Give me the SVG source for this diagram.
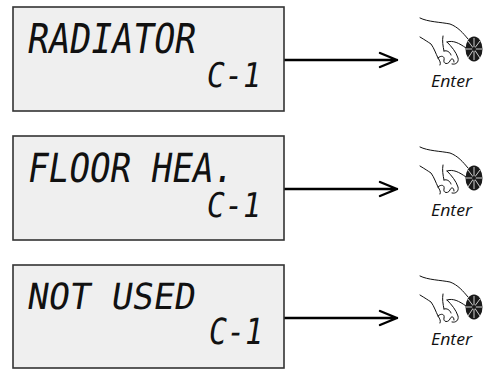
<svg xmlns="http://www.w3.org/2000/svg" xmlns:xlink="http://www.w3.org/1999/xlink" width="485" height="370" viewBox="0 0 485 370">
<style>
.box{fill:#efefef;stroke:#333;stroke-width:1.6}
.lcd{font-family:"DejaVu Sans Mono","Liberation Mono",monospace;fill:#111}
.con{stroke:#000;stroke-width:2.4;fill:none;stroke-linecap:round;stroke-linejoin:round}
.hand{stroke:#111;stroke-width:1;fill:none;stroke-linecap:round;stroke-linejoin:round}
.enter{font-family:"Open Sans","Noto Sans",sans-serif;font-style:italic;font-size:16.5px;fill:#111}
</style>
<defs>
<g id="handicon">
<path class="hand" d="M420,18 C428,22 440,22 450,24 C458,27 463,33 468,39"/>
<path class="hand" d="M447,42 C453,40 459,43 466,48"/>
<path class="hand" d="M420,37 C425,40 428,42 431,44 C434,48 436,54 438,58 C440,61 441,63 440,65"/>
<path class="hand" d="M443,36 C442,41 443,46 444,51"/>
<path class="hand" d="M447,42 C452,47 456,52 458,58 C459,62 456,65 452,64"/>
<path class="hand" d="M438,58 C441,55 445,56 444,60 C443,64 448,65 450,61 C451,58 454,58 454,62"/>
<path class="hand" d="M444,51 C447,50 450,52 451,55"/>
<ellipse cx="474" cy="49" rx="8.5" ry="12.5" fill="#1a1a1a"/>
<g stroke="#fff" stroke-width="0.8">
<line x1="474" y1="49" x2="474" y2="38"/>
<line x1="474" y1="49" x2="480" y2="41"/>
<line x1="474" y1="49" x2="482" y2="49"/>
<line x1="474" y1="49" x2="480" y2="58"/>
<line x1="474" y1="49" x2="474" y2="60"/>
<line x1="474" y1="49" x2="468" y2="58"/>
<line x1="474" y1="49" x2="466" y2="49"/>
<line x1="474" y1="49" x2="468" y2="41"/>
</g>
<circle cx="474" cy="49" r="2" fill="#1a1a1a"/>
<text class="enter" x="431" y="87" textLength="41" lengthAdjust="spacingAndGlyphs">Enter</text>
</g>
</defs>

<g id="connectors">
<path class="con" d="M284,60 H397 M380,53 L397,60 L380,67"/>
<path class="con" d="M284,189 H397 M380,182 L397,189 L380,196"/>
<path class="con" d="M284,318 H397 M380,311 L397,318 L380,325"/>
</g>

<g id="node-radiator">
<rect class="box" x="13" y="7" width="271" height="104"/>
<text class="lcd" font-size="41" textLength="168" lengthAdjust="spacingAndGlyphs" transform="translate(26,53) skewX(-9)">RADIATOR</text>
<text class="lcd" font-size="34" textLength="54" lengthAdjust="spacingAndGlyphs" transform="translate(205,87) skewX(-9)">C-1</text>
</g>
<g id="enter-1"><use xlink:href="#handicon"/></g>

<g id="node-floor">
<rect class="box" x="13" y="136" width="271" height="104"/>
<text class="lcd" font-size="40" textLength="206" lengthAdjust="spacingAndGlyphs" transform="translate(26,182) skewX(-9)">FLOOR HEA.</text>
<text class="lcd" font-size="34" textLength="54" lengthAdjust="spacingAndGlyphs" transform="translate(205,217) skewX(-9)">C-1</text>
</g>
<g id="enter-2"><use xlink:href="#handicon" transform="translate(0,129)"/></g>

<g id="node-notused">
<rect class="box" x="13" y="265" width="271" height="103"/>
<text class="lcd" font-size="36" textLength="168" lengthAdjust="spacingAndGlyphs" transform="translate(26,309) skewX(-9)">NOT USED</text>
<text class="lcd" font-size="36" textLength="54" lengthAdjust="spacingAndGlyphs" transform="translate(207,344) skewX(-9)">C-1</text>
</g>
<g id="enter-3"><use xlink:href="#handicon" transform="translate(0,258)"/></g>
</svg>
